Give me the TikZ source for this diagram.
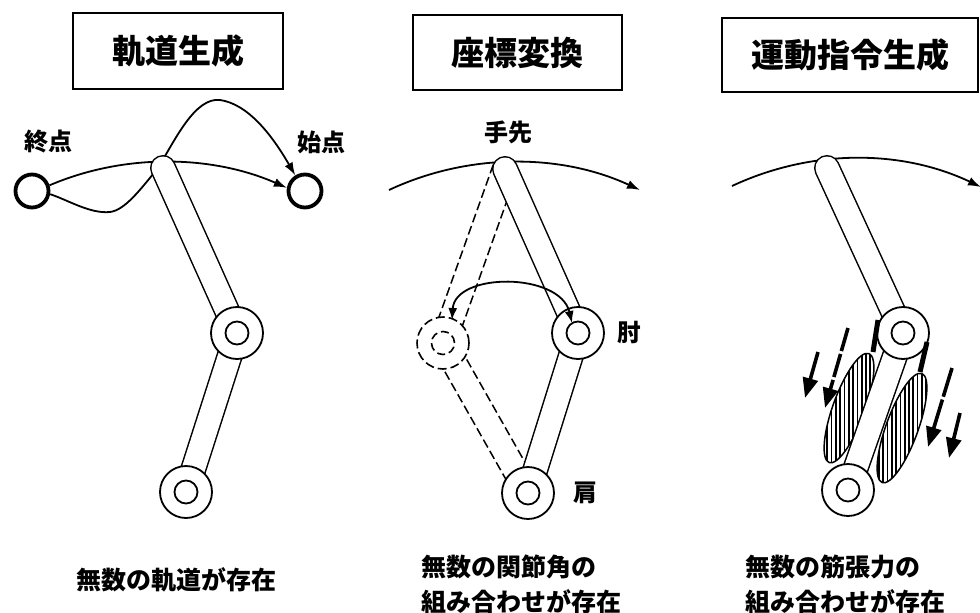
\documentclass[tikz,border=0pt]{standalone}
\usepackage{fontspec}
\newfontfamily\jp{Noto Sans CJK JP}
\usetikzlibrary{arrows.meta,calc}
% outlined arm segment: black capsule with a white core
\newcommand\armlimb[2]{%
  \draw[line width=26pt,line cap=round] (#1) -- (#2);
  \draw[white,line width=23pt,line cap=round] (#1) -- (#2);}
% dashed arm segment: two dashed parallel edges
\newcommand\ghostlimb[2]{%
  \draw[ghostline] ($(#1)!12.5pt!90:(#2)$) -- ($(#2)!12.5pt!-90:(#1)$);
  \draw[ghostline] ($(#1)!12.5pt!-90:(#2)$) -- ($(#2)!12.5pt!90:(#1)$);}
\begin{document}
\begin{tikzpicture}[x=1pt,y=-1pt,
  titlebox/.style={draw,line width=1.4pt,inner sep=0pt,
    font=\jp\bfseries\fontsize{33}{40}\selectfont},
  lbl/.style={inner sep=0pt,font=\jp\bfseries\fontsize{24}{30}\selectfont},
  caption/.style={inner sep=0pt,align=left,anchor=west,
    font=\jp\bfseries\fontsize{25}{35}\selectfont},
  ptcirc/.style={circle,draw,line width=3.8pt,minimum size=33pt,inner sep=0pt},
  joint/.style={circle,draw,fill=white,line width=1.8pt,minimum size=52pt,inner sep=0pt,
    path picture={\draw[line width=1.8pt] (path picture bounding box.center) circle (11.5pt);}},
  ghostjoint/.style={circle,draw,fill=white,line width=1.6pt,minimum size=52pt,inner sep=0pt,
    dash pattern=on 9pt off 4pt,
    path picture={\draw[line width=1.6pt,dash pattern=on 8pt off 4pt]
      (path picture bounding box.center) circle (11.5pt);}},
  ghostline/.style={line width=1.5pt,dash pattern=on 9pt off 4pt},
  sweep/.style={line width=1.8pt,-{Latex[length=13pt,width=9pt]}},
  twoway/.style={line width=1.8pt,{Latex[length=12pt,width=9pt]}-{Latex[length=12pt,width=9pt]}},
  force/.style={line width=3.6pt,-{Triangle[length=20pt,width=15pt]}},
  tendon/.style={line width=5pt},
  muscle/.style={line width=1.5pt},
]
\useasboundingbox (0,0) rectangle (980,613);

% ---------------- titles ----------------
\node[titlebox,minimum width=210pt,minimum height=76pt] (t1) at (178,51) {軌道生成};
\node[titlebox,minimum width=209pt,minimum height=75pt] (t2) at (517.5,52.5) {座標変換};
\node[titlebox,minimum width=256pt,minimum height=74pt] (t3) at (850,55) {運動指令生成};

% ---------------- panel 1: trajectory ----------------
\node[ptcirc] (goal) at (32,191) {};
\node[ptcirc] (init) at (305,191) {};
\node[lbl] (goallbl) at (48,142) {終点};
\node[lbl] (initlbl) at (321,142) {始点};

\coordinate (h1) at (163,168);
\draw[sweep] (goal.18) .. controls (125,153) and (212,155) .. (init.170);
\draw[sweep] (goal.-10) .. controls (68,200) and (90,214) .. (110,212)
  .. controls (125,210) and (140,190) .. (158,168)
  .. controls (175,140) and (195,97) .. (220,100)
  .. controls (248,104) and (272,135) .. (init.122);

\path (237,333) coordinate (e1c) (186,492) coordinate (s1c);
\armlimb{h1}{e1c}
\armlimb{e1c}{s1c}
\node[joint] (e1) at (e1c) {};
\node[joint] (s1) at (s1c) {};

% ---------------- panel 2: coordinate transform ----------------
\coordinate (arc2a) at (389,190);
\coordinate (arc2b) at (640,190);
\draw[sweep] (arc2a) .. controls (468,153) and (560,153) .. (arc2b);
\node[lbl] (handlbl) at (508,132) {手先};

\coordinate (h2) at (505,169);
\path (578,333) coordinate (e2c) (528,493) coordinate (s2c) (443,343) coordinate (g2c);
\ghostlimb{h2}{g2c}
\ghostlimb{g2c}{s2c}
\node[ghostjoint] (g2) at (g2c) {};
\armlimb{h2}{e2c}
\armlimb{e2c}{s2c}
\node[joint] (e2) at (e2c) {};
\node[joint] (s2) at (s2c) {};
\node[lbl] (elbowlbl) at (629,333) {肘};
\node[lbl] (shoulderlbl) at (585,493) {肩};
\coordinate (sw2a) at (452,320);
\coordinate (sw2b) at (572,323);
\draw[twoway] (sw2a) .. controls (455,272) and (560,272) .. (sw2b);

% ---------------- panel 3: motor command ----------------
\coordinate (arc3a) at (732,186);
\coordinate (arc3b) at (981,187);
\draw[sweep] (arc3a) .. controls (811,149) and (901,149) .. (arc3b);

\coordinate (h3) at (827,168);
\path (903,333) coordinate (e3c) (848,490) coordinate (s3c);

% hatched muscles alongside the forearm
\foreach \cx/\cy in {849/408, 902/428}{
  \begin{scope}
    \clip[rotate around={70:(\cx,\cy)}] (\cx,\cy) ellipse [x radius=58pt,y radius=16pt];
    \foreach \xx in {780,784.3,...,960}
      \draw[line width=1.7pt] (\xx,330) -- (\xx,500);
  \end{scope}
  \draw[muscle,rotate around={70:(\cx,\cy)}] (\cx,\cy) ellipse [x radius=58pt,y radius=16pt];
}

\armlimb{h3}{e3c}
\armlimb{e3c}{s3c}
\node[joint] (e3) at (e3c) {};
\node[joint] (s3) at (s3c) {};

% tendons
\coordinate (tl1) at (873,352); \coordinate (tl2) at (878,320);
\coordinate (tr1) at (920,372); \coordinate (tr2) at (927,342);
\draw[tendon] (tl1) -- (tl2);
\draw[tendon] (tr1) -- (tr2);

% muscle forces
\path (818,352) coordinate (f1a) (805,398) coordinate (f1b)
      (848,328) coordinate (f2a) (825,408) coordinate (f2b)
      (952,368) coordinate (f3a) (928,447) coordinate (f3b)
      (960,413) coordinate (f4a) (949,458) coordinate (f4b);
\draw[force] (f1a) -- (f1b);
\draw[force,dash pattern=on 24pt off 3pt] (f2a) -- (f2b);
\draw[force,dash pattern=on 30pt off 3pt] (f3a) -- (f3b);
\draw[force] (f4a) -- (f4b);

% ---------------- captions ----------------
\node[inner sep=0pt,font=\jp\bfseries\fontsize{25}{35}\selectfont] (c1) at (176.5,580) {無数の軌道が存在};
\node[caption] (c2) at (421,584.5) {無数の関節角の\\組み合わせが存在};
\node[caption] (c3) at (745,584.5) {無数の筋張力の\\組み合わせが存在};
\end{tikzpicture}
\end{document}
